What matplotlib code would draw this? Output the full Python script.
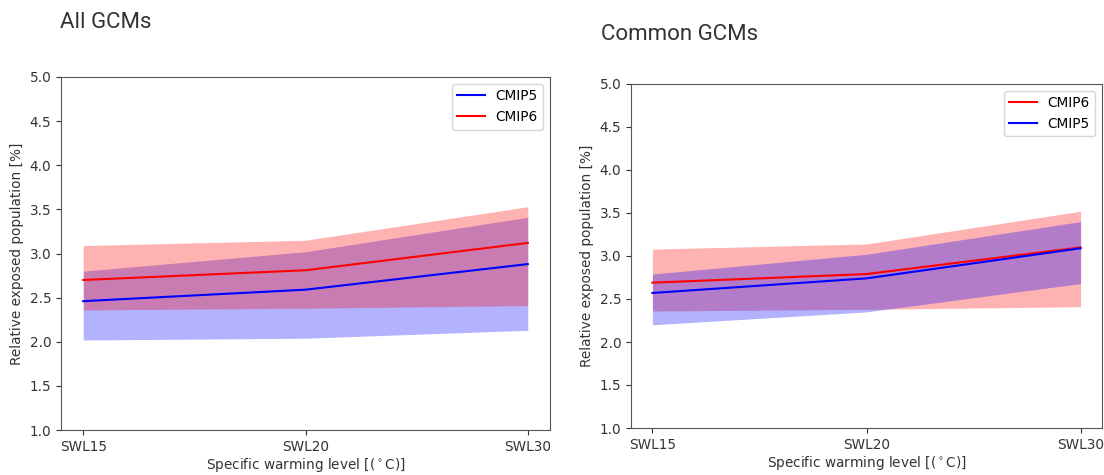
import matplotlib
matplotlib.use('Agg')
import matplotlib.pyplot as plt
import numpy as np

levels = ['SWL15', 'SWL20', 'SWL30']

# All GCMs
all_cmip5_mean = [2.46, 2.59, 2.88]
all_cmip5_low = [2.02, 2.04, 2.13]
all_cmip5_high = [2.80, 3.02, 3.41]
all_cmip6_mean = [2.70, 2.81, 3.12]
all_cmip6_low = [2.36, 2.38, 2.41]
all_cmip6_high = [3.09, 3.15, 3.53]

# Common GCMs
com_cmip5_mean = [2.57, 2.74, 3.09]
com_cmip5_low = [2.20, 2.35, 2.68]
com_cmip5_high = [2.79, 3.02, 3.40]
com_cmip6_mean = [2.69, 2.79, 3.10]
com_cmip6_low = [2.36, 2.38, 2.41]
com_cmip6_high = [3.08, 3.14, 3.52]

fs = 9.8
fig = plt.figure(figsize=(11.04, 4.75), dpi=100)
ax1 = fig.add_axes([61/1104, 1-430/475, (550-61)/1104, (430-77)/475])
ax2 = fig.add_axes([631/1104, 1-428/475, (1102-631)/1104, (428-84)/475])

x = np.arange(len(levels))

def panel(ax, series):
    for name, color, mean, low, high in series:
        ax.plot(x, mean, color=color, label=name, lw=1.5)
        ax.fill_between(x, low, high, color=color, alpha=0.3, lw=0)
    ax.set_ylim(1.0, 5.0)
    ax.set_xticks(x)
    ax.set_xticklabels(levels, fontsize=fs)
    ax.tick_params(axis='y', labelsize=fs)
    ax.tick_params(colors='#333333')
    ax.set_xlabel(r'Specific warming level [($^\circ$C)]', fontsize=fs, labelpad=2, color='#333333')
    ax.set_ylabel('Relative exposed population [%]', fontsize=fs, color='#333333')
    ax.legend(loc='upper right', fontsize=fs)
    for s in ax.spines.values():
        s.set_color('#555555')

panel(ax1, [('CMIP5', 'blue', all_cmip5_mean, all_cmip5_low, all_cmip5_high),
            ('CMIP6', 'red', all_cmip6_mean, all_cmip6_low, all_cmip6_high)])
panel(ax2, [('CMIP6', 'red', com_cmip6_mean, com_cmip6_low, com_cmip6_high),
            ('CMIP5', 'blue', com_cmip5_mean, com_cmip5_low, com_cmip5_high)])

fig.text(60/1104, 1-22/475, 'All GCMs', fontsize=16, va='center',
         family=['Roboto', 'DejaVu Sans'], color='#333333')
fig.text(601/1104, 1-34/475, 'Common GCMs', fontsize=16, va='center',
         family=['Roboto', 'DejaVu Sans'], color='#333333')

fig.savefig('out.png', dpi=100)
